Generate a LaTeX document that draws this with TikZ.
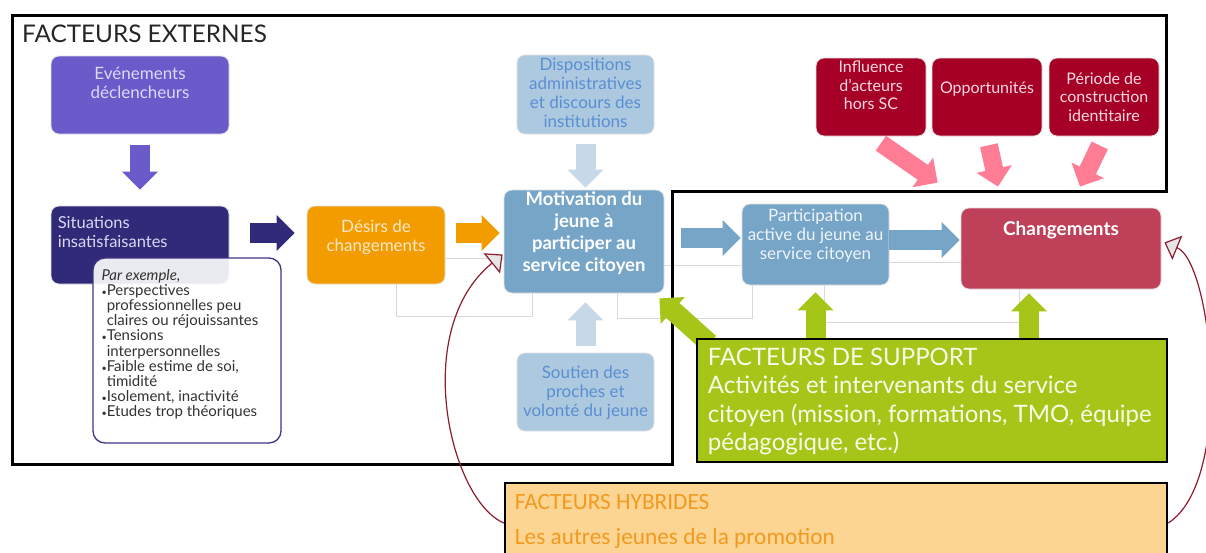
\documentclass[tikz,border=0pt]{standalone}
\usepackage{fontspec}
\setmainfont{Lato}
\newfontfamily\hybfont{Carlito}
\usetikzlibrary{arrows.meta,positioning,calc}

\definecolor{evpurple}{HTML}{6A5BCB}
\definecolor{evtext}{HTML}{DCD8F6}
\definecolor{sitpurple}{HTML}{312A79}
\definecolor{sittext}{HTML}{D9D6F0}
\definecolor{exborder}{HTML}{3E3685}
\definecolor{desorange}{HTML}{F39C00}
\definecolor{destext}{HTML}{FFE8C8}
\definecolor{motblue}{HTML}{77A5C8}
\definecolor{partext}{HTML}{EEF4FA}
\definecolor{disblue}{HTML}{ADC9E0}
\definecolor{distext}{HTML}{5A8ED2}
\definecolor{lightarrow}{HTML}{C7D9E8}
\definecolor{chgred}{HTML}{BE4059}
\definecolor{darkred}{HTML}{A60027}
\definecolor{redtext}{HTML}{F7D9DF}
\definecolor{pinkarrow}{HTML}{FF7C95}
\definecolor{supgreen}{HTML}{A5C618}
\definecolor{suptext}{HTML}{F8FBE8}
\definecolor{hybfill}{HTML}{FDD592}
\definecolor{hybtext}{HTML}{F29A1F}
\definecolor{loopred}{HTML}{8C1C2E}

\newcommand\puce{{\fontsize{9pt}{9pt}\selectfont\textbullet}}

\begin{document}
\begin{tikzpicture}[x=1pt,y=-1pt,
        box/.style={rounded corners=8pt,draw=black!12,line width=0.8pt,fill=#1},
        txt/.style={inner sep=0pt,align=center,font=\fontsize{17pt}{19pt}\selectfont},
        blk/.style={draw=#1,line width=20pt,-{Triangle[length=18pt,width=35pt]}},
        elbow/.style={draw=black!15,line width=0.8pt},
        loopback/.style={draw=loopred,line width=1.2pt,-{Triangle[length=14pt,width=26pt,fill=black!10]}}]
    \useasboundingbox (0,0) rectangle (1206,552);
    % the boxes of the flow
    \node[box=evpurple,minimum width=178pt,minimum height=78pt] (ev) at (140,95) {};
    \node[box=sitpurple,minimum width=178pt,minimum height=78pt] (sit) at (140,245) {};
    \node[box=white,draw=exborder,line width=1.3pt,rounded corners=12pt,fill opacity=0.9,
        minimum width=188pt,minimum height=185pt] (ex) at (187,350.5) {};
    \node[box=desorange,minimum width=138pt,minimum height=78pt] (des) at (376,245) {};
    \node[box=motblue,minimum width=160pt,minimum height=103pt] (mot) at (584,241.5) {};
    \node[box=disblue,minimum width=137pt,minimum height=79pt] (dis) at (585.5,94.5) {};
    \node[box=disblue,minimum width=137pt,minimum height=78pt] (sou) at (585.5,392) {};
    \node[box=motblue,minimum width=147pt,minimum height=81pt] (par) at (815.5,244.5) {};
    \node[box=chgred,minimum width=200pt,minimum height=81pt] (chg) at (1061,248.5) {};
    \node[box=darkred,minimum width=110pt,minimum height=78pt] (inf) at (871,97) {};
    \node[box=darkred,minimum width=110pt,minimum height=78pt] (opp) at (987,97) {};
    \node[box=darkred,minimum width=110pt,minimum height=78pt] (per) at (1104,97) {};
    % thin leftover connectors
    \draw[elbow] (des.east) ++(0,13) -- ++(59,0);
    \draw[elbow] (des.south) ++(20,0) -- ++(0,32) -| ($(mot.south)+(-52,0)$);
    \draw[elbow] (mot.south) ++(33,0) -- ++(0,25) -| ($(par.south)+(-63.5,0)$);
    \draw[elbow] (mot.east) ++(0,23.5) -- ++(78,0);
    \draw[elbow] (par.east) ++(0,17.5) -- ++(72,0);
    \draw[elbow] (chg.south) ++(-42,0) -- ++(0,33) -| ($(par.south)+(8.5,0)$);
    % frame of the external factors
    \draw[line width=3pt] (12,15) -- (1166,15) -- (1166,191) -- (672,191) -- (672,464) -- (12,464) -- cycle;
    \node[anchor=base west,inner sep=0pt,font=\fontsize{24.3pt}{26pt}\selectfont,text=black!85] (extT) at (22,42) {FACTEURS EXTERNES};
    % fat arrows
    \draw[blk=evpurple,shorten <=11pt,shorten >=16pt] (ev.south) -- (sit.north);
    \draw[blk=sitpurple] ($(sit.east)+(21,-12)$) -- ($(des.west)+(-12,-12)$);
    \draw[blk=desorange] ($(des.east)+(11,-12)$) -- ($(mot.west)+(-4,-8.5)$);
    \draw[blk=lightarrow,shorten <=10pt,shorten >=2pt] (dis.south) -- (dis.south |- mot.north);
    \draw[blk=lightarrow,shorten <=7pt,shorten >=9pt] (sou.north) -- (sou.north |- mot.south);
    \draw[blk=motblue] ($(mot.east)+(17,-3.5)$) -- ($(par.west)+(-1,-6.5)$);
    \draw[blk=motblue] ($(par.east)+(0,-4.5)$) -- ($(chg.west)+(-1,-8.5)$);
    \draw[blk=pinkarrow,line width=18pt,shorten <=12pt] (inf.south) -- ($(chg.north west)+(-23,-25)$);
    \draw[blk=pinkarrow,line width=18pt,shorten <=9pt] (opp.south) -- ($(chg.north)+(-63,-21)$);
    \draw[blk=pinkarrow,line width=18pt,shorten <=10pt] (per.south) -- ($(chg.north)+(19,-21)$);
    \draw[blk=supgreen,shorten >=7pt] ($(par.south)+(0,58)$) -- (par.south);
    \draw[blk=supgreen,shorten >=4pt] ($(chg.south)+(-32,54)$) -- ($(chg.south)+(-32,0)$);
    \draw[blk=supgreen] ($(mot.south east)+(45,50)$) -- ($(mot.south east)+(-5,5)$);
    % support and hybrid factors
    \node[draw=black,line width=2.5pt,fill=supgreen,minimum width=470pt,minimum height=123pt] (sup) at (932,400.5) {};
    \node[draw=black,line width=2.5pt,fill=hybfill,minimum width=662pt,minimum height=80pt] (hyb) at (836,523) {};
    % texts
    \node[txt,text=evtext,below=11pt of ev.north] (evT) {Evénements\\déclencheurs};
    \node[txt,align=left,font=\fontsize{16.5pt}{19pt}\selectfont,text=sittext,
        below right=11pt and 7pt of sit.north west] (sitT) {Situations\\insatisfaisantes};
    \node[txt,align=left,font=\fontsize{15pt}{15.2pt}\selectfont,text=black!80,
        below right=11.5pt and 9pt of ex.north west] (exT) {\textit{Par exemple,}\\
        \puce Perspectives\\\phantom{\puce}professionnelles peu\\\phantom{\puce}claires ou réjouissantes\\
        \puce Tensions\\\phantom{\puce}interpersonnelles\\
        \puce Faible estime de soi,\\\phantom{\puce}timidité\\
        \puce Isolement, inactivité\\
        \puce Etudes trop théoriques};
    \node[txt,text=destext,below=14pt of des.north] (desT) {Désirs de\\changements};
    \node[txt,text=white,font=\bfseries\fontsize{18.5pt}{22pt}\selectfont,below=1.5pt of mot.north] (motT)
        {Motivation du\\jeune à\\participer au\\service citoyen};
    \node[txt,text=distext,below=3.5pt of dis.north] (disT) {Dispositions\\administratives\\et discours des\\institutions};
    \node[txt,text=distext,below=13pt of sou.north] (souT) {Soutien des\\proches et\\volonté du jeune};
    \node[txt,text=partext,below=5pt of par.north] (parT) {Participation\\active du jeune au\\service citoyen};
    \node[txt,text=white,font=\bfseries\fontsize{19pt}{22pt}\selectfont,below=14pt of chg.north] (chgT) {Changements};
    \node[txt,text=redtext,font=\fontsize{16pt}{18.5pt}\selectfont,below=3.5pt of inf.north] (infT) {Influence\\d'acteurs\\hors SC};
    \node[txt,text=redtext,font=\fontsize{16pt}{18.5pt}\selectfont,below=24pt of opp.north] (oppT) {Opportunités};
    \node[txt,text=redtext,font=\fontsize{16pt}{18.5pt}\selectfont,below=14.5pt of per.north] (perT) {Période de\\construction\\identitaire};
    \node[txt,align=left,text=suptext,font=\fontsize{24pt}{28.5pt}\selectfont,
        below right=10pt and 12pt of sup.north west] (supT) {FACTEURS DE SUPPORT\\Activités et intervenants du service\\citoyen (mission, formations, TMO, équipe\\pédagogique, etc.)};
    \node[txt,align=left,text=hybtext,font=\hybfont\fontsize{23.3pt}{35pt}\selectfont,
        below right=12pt and 11pt of hyb.north west] (hybT) {FACTEURS HYBRIDES\\Les autres jeunes de la promotion};
    % hybrid factors act back on motivation and changes
    \draw[loopback] (hyb.west) .. controls (450,500) and (410,330) .. ($(mot.west)+(-1,13)$);
    \draw[loopback] (hyb.east) .. controls (1235,480) and (1212,262) .. ($(chg.east)+(3,-6)$);
\end{tikzpicture}
\end{document}
